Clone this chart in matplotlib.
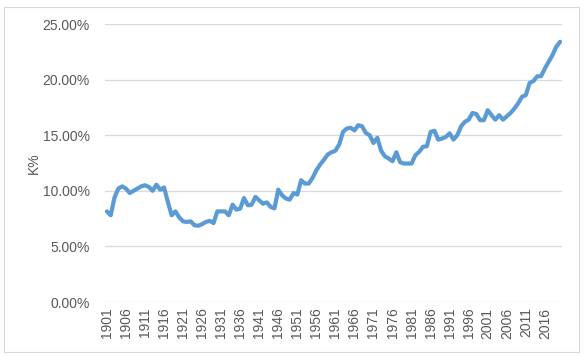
import matplotlib.pyplot as plt
from matplotlib.patches import Rectangle
from matplotlib.ticker import FuncFormatter

# data: K% by year
years = list(range(1901, 2021))
k_pct = [
    8.15, 7.8, 9.4, 10.2, 10.4, 10.2, 9.8, 10.0, 10.2, 10.4,      # 1901-1910
    10.5, 10.35, 10.0, 10.55, 10.1, 10.3, 9.0, 7.8, 8.15, 7.6,    # 1911-1920
    7.25, 7.2, 7.25, 6.9, 6.86, 7.0, 7.2, 7.3, 7.1, 8.15,         # 1921-1930
    8.15, 8.15, 7.8, 8.75, 8.3, 8.4, 9.35, 8.7, 8.75, 9.45,       # 1931-1940
    9.14, 8.84, 8.96, 8.55, 8.42, 10.1, 9.6, 9.3, 9.2, 9.8,       # 1941-1950
    9.66, 10.95, 10.65, 10.65, 11.16, 11.85, 12.36, 12.8, 13.27, 13.47,  # 1951-1960
    13.6, 14.17, 15.3, 15.6, 15.67, 15.43, 15.9, 15.8, 15.2, 15.0,       # 1961-1970
    14.3, 14.77, 13.6, 13.1, 12.9, 12.66, 13.47, 12.57, 12.45, 12.45,    # 1971-1980
    12.45, 13.2, 13.5, 13.96, 14.0, 15.3, 15.4, 14.6, 14.7, 14.85,       # 1981-1990
    15.17, 14.6, 15.0, 15.8, 16.2, 16.4, 17.0, 16.9, 16.35, 16.35,       # 1991-2000
    17.25, 16.8, 16.4, 16.8, 16.4, 16.7, 17.0, 17.4, 17.87, 18.46,       # 2001-2010
    18.6, 19.7, 19.87, 20.3, 20.3, 21.0, 21.6, 22.2, 22.96, 23.4,        # 2011-2020
]
y_ticks = [0, 0.05, 0.10, 0.15, 0.20, 0.25]

plt.rcParams['font.family'] = ['Liberation Sans', 'DejaVu Sans']

fig = plt.figure(figsize=(5.85, 3.57), dpi=100)
fig.patch.set_facecolor('white')
# chart area border like excel
fig.patches.append(Rectangle((4 / 585, 1 - 352 / 357), 575 / 585, 345 / 357,
                             transform=fig.transFigure, fill=False,
                             edgecolor='#d9d9d9', linewidth=0.8))

ax = fig.add_axes([105 / 585, 1 - 302 / 357, 457 / 585, 278 / 357])

x = list(range(len(years)))
vals = [v / 100 for v in k_pct]
ax.plot(x, vals, color='#5b9bd5', linewidth=3.0, solid_joinstyle='round',
        solid_capstyle='round', zorder=3)

ax.set_xlim(-0.5, len(years) - 0.5)
ax.set_ylim(0, 0.25)
ax.set_yticks(y_ticks)
ax.yaxis.set_major_formatter(FuncFormatter(lambda v, p: f'{v * 100:.2f}%'))
ax.grid(axis='y', color='#d9d9d9', linewidth=0.9)
ax.set_axisbelow(True)

tick_pos = x[::5]
ax.set_xticks(tick_pos)
ax.set_xticklabels([str(years[i]) for i in tick_pos], rotation=90)

for s in ['top', 'right', 'left', 'bottom']:
    ax.spines[s].set_visible(False)
ax.tick_params(axis='both', length=0, labelsize=10, labelcolor='#595959')
ax.tick_params(axis='y', pad=11)
ax.tick_params(axis='x', pad=4)

ax.set_ylabel('K%', fontsize=10, color='#595959', labelpad=1)

fig.savefig('out.png', dpi=100, facecolor='white')
